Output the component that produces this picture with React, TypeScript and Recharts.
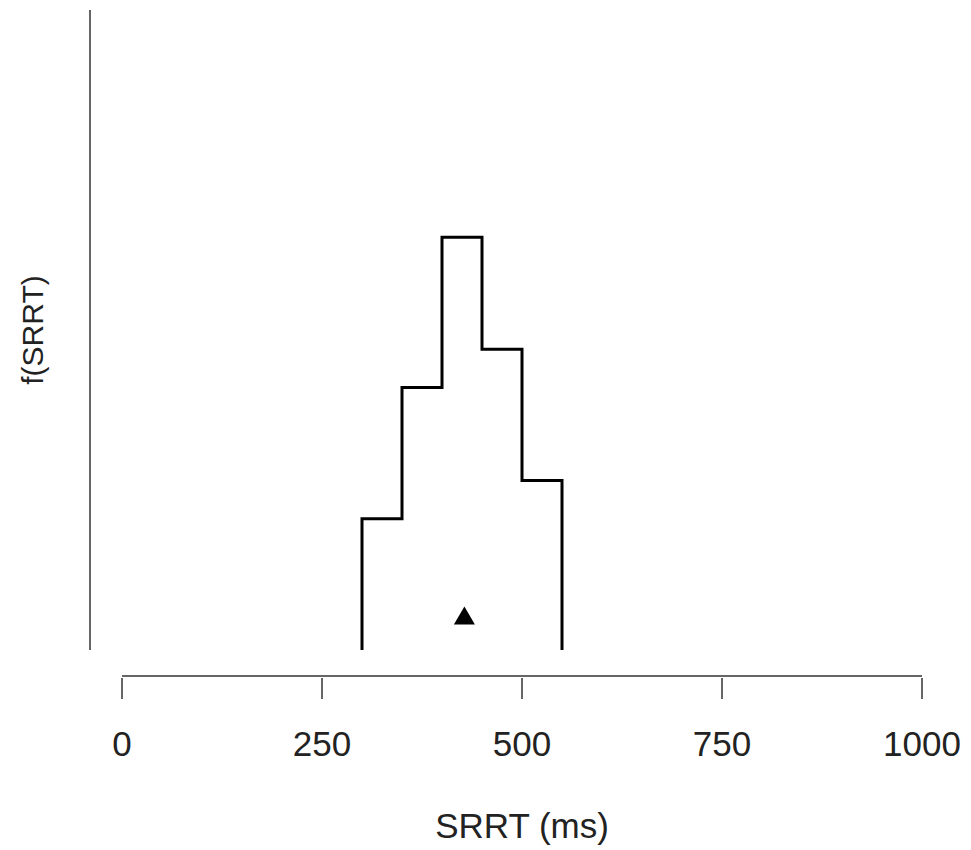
import { ComposedChart, Line, Scatter, XAxis, YAxis } from "recharts";

// histogram of SRRT (density scale), bins of 50 ms
const binEdges = [300, 350, 400, 450, 500, 550];
const binDensity = [0.00205, 0.0041, 0.00645, 0.0047, 0.00265];
const xTicks = [0, 250, 500, 750, 1000];
// mean marker (triangle)
const markerX = 428;
const markerY = 0.00054;

const FONT = "'Liberation Sans', Arial, Helvetica, sans-serif";
const AXIS_GREY = "#666";

// closed step outline: up the first edge, across each bin, down the last edge
const outline = [
  { x: binEdges[0], y: 0 },
  ...binDensity.map((d, i) => ({ x: binEdges[i], y: d })),
  { x: binEdges[binEdges.length - 1], y: binDensity[binDensity.length - 1] },
  { x: binEdges[binEdges.length - 1], y: 0 },
];

const marker = [{ x: markerX, y: markerY }];

function XTick(props: any) {
  const { x, y, payload } = props;
  return (
    <g>
      <line x1={x} x2={x} y1={y + 26} y2={y + 47} stroke={AXIS_GREY} strokeWidth={2} />
      <text x={x} y={y + 104} textAnchor="middle" fontSize={35} fontFamily={FONT} fill="#222">
        {payload.value}
      </text>
    </g>
  );
}

function Triangle(props: any) {
  const { cx, cy } = props;
  const pts = `${cx},${cy - 9} ${cx - 10.5},${cy + 9} ${cx + 10.5},${cy + 9}`;
  return <polygon points={pts} fill="#000" />;
}

export default function App() {
  return (
    <div style={{ position: "absolute", left: 0, top: 0, width: 971, height: 850, background: "#fff" }}>
      <ComposedChart width={971} height={850} margin={{ top: 10, right: 49, bottom: 0, left: 0 }}>
        <XAxis
          dataKey="x"
          type="number"
          domain={[0, 1000]}
          ticks={xTicks}
          height={200}
          tickSize={0}
          tickLine={false}
          axisLine={{ stroke: AXIS_GREY, strokeWidth: 2, transform: "translate(0 26)" }}
          tick={<XTick />}
          interval={0}
          label={(p: any) => {
            const vb = p.viewBox;
            return (
              <text x={vb.x + vb.width / 2} y={vb.y + 188} textAnchor="middle" fontSize={35} fontFamily={FONT} fill="#222">
                SRRT (ms)
              </text>
            );
          }}
        />
        <YAxis
          type="number"
          domain={[0, 0.01]}
          width={122}
          tick={false}
          tickLine={false}
          axisLine={{ stroke: AXIS_GREY, strokeWidth: 2, transform: "translate(-32 0)" }}
          label={(p: any) => {
            const vb = p.viewBox;
            const cy = vb.y + vb.height / 2;
            return (
              <text x={43} y={cy} transform={`rotate(-90 43 ${cy})`} textAnchor="middle" fontSize={30} fontFamily={FONT} fill="#222">
                f(SRRT)
              </text>
            );
          }}
        />
        <Line
          data={outline}
          dataKey="y"
          type="stepAfter"
          stroke="#000"
          strokeWidth={3}
          dot={false}
          activeDot={false}
          isAnimationActive={false}
        />
        <Scatter data={marker} dataKey="y" shape={<Triangle />} isAnimationActive={false} />
      </ComposedChart>
    </div>
  );
}
